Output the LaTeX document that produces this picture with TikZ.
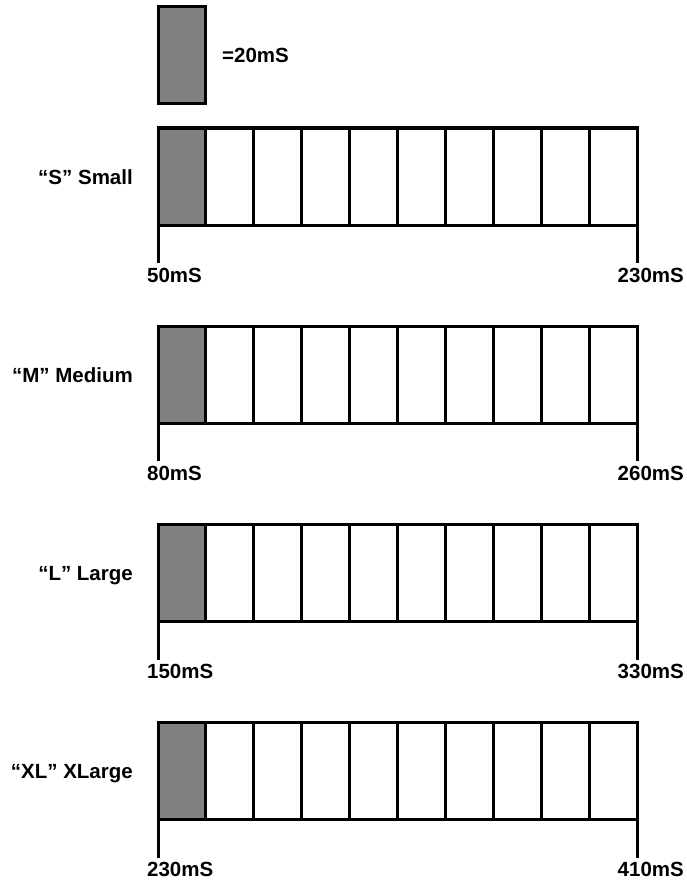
\documentclass[tikz,border=0pt]{standalone}
\usepackage{fontspec}
\setmainfont{Liberation Sans}
\definecolor{cellgray}{HTML}{808080}
\begin{document}
\begin{tikzpicture}[x=1pt,y=-1pt,
  cell/.style={draw,line width=3pt,minimum width=47.9pt,minimum height=97pt,inner sep=0pt,outer sep=0pt,anchor=north west},
  shaded/.style={cell,fill=cellgray},
  lbl/.style={font=\fontsize{20.5}{24}\selectfont\bfseries,inner sep=0pt},
  tickline/.style={line width=3pt}]
\useasboundingbox (0,0) rectangle (686,880);
% legend
\node[shaded] (key) at (158,7) {};
\node[lbl,anchor=base west] (keytxt) at (222,63) {=20mS};
\foreach \i/\nm/\lv/\hv in {0/{“S” Small}/50mS/230mS,1/{“M” Medium}/80mS/260mS,2/{“L” Large}/150mS/330mS,3/{“XL” XLarge}/230mS/410mS}{
  \pgfmathsetmacro\ytop{128+198.3*\i}
  \node[shaded] (c\i-0) at (158,\ytop) {};
  \foreach \j in {1,...,9}{
    \node[cell] (c\i-\j) at ({158+47.9*\j},\ytop) {};
  }
  \node[lbl,anchor=base east] (n\i) at (133,{\ytop+56}) {\nm};
  \path (c\i-0.south west) ++(0,38) coordinate (tl\i);
  \path (c\i-9.south east) ++(0,38) coordinate (tr\i);
  \draw[tickline] (c\i-0.south west) -- (tl\i);
  \draw[tickline] (c\i-9.south east) -- (tr\i);
  \node[lbl,anchor=base west] (lo\i) at (147,{\ytop+97+57}) {\lv};
  \node[lbl,anchor=base east] (hi\i) at (684,{\ytop+97+57}) {\hv};
}
\end{tikzpicture}
\end{document}
